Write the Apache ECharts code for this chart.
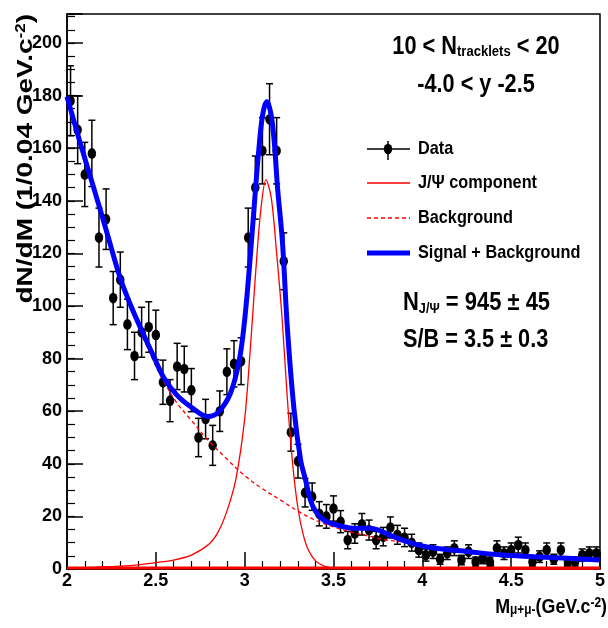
<!DOCTYPE html>
<html><head><meta charset="utf-8">
<script src="https://cdn.jsdelivr.net/npm/echarts@6/dist/echarts.min.js"></script>
<style>html,body{margin:0;padding:0;background:#fff}#c{width:608px;height:628px}</style>
</head><body><div id="c"></div>
<script>
// ---- data ----
const binCenters = [2.02,2.06,2.10,2.14,2.18,2.22,2.26,2.30,2.34,2.38,2.42,2.46,2.50,2.54,2.58,2.62,2.66,2.70,2.74,2.78,2.82,2.86,2.90,2.94,2.98,3.02,3.06,3.10,3.14,3.18,3.22,3.26,3.30,3.34,3.38,3.42,3.46,3.50,3.54,3.58,3.62,3.66,3.70,3.74,3.78,3.82,3.86,3.90,3.94,3.98,4.02,4.06,4.10,4.14,4.18,4.22,4.26,4.30,4.34,4.38,4.42,4.46,4.50,4.54,4.58,4.62,4.66,4.70,4.74,4.78,4.82,4.86,4.90,4.94,4.98];
const counts = [178,167,150,158,126,133,103,110,93,81,90,92,89,71,64,77,76,68,50,57,47,60,75,78,79,126,145,159,171,159,117,52,41,29,27.5,21,20,23,18,11,13.5,17,14.8,11,12.3,15.8,13,12,10,7.2,5.3,6.6,3.7,6,7.9,3.4,6.6,2.8,4,2.8,7.9,6,7.2,9.1,7.2,2.8,4.7,7.2,3.7,7.2,2.8,2.8,5.3,6,6];
const errors = [13.3,12.9,12.2,12.6,11.2,11.5,10.1,10.5,9.6,9.0,9.5,9.6,9.4,8.4,8.0,8.8,8.7,8.2,7.3,7.5,7.6,7.7,8.7,8.8,8.9,11.2,12.0,12.6,13.5,12.6,10.8,7.2,6.4,5.4,5.2,4.6,4.5,4.8,4.2,3.3,3.7,4.1,3.8,3.3,3.5,4.0,3.6,3.5,3.2,2.7,2.3,2.6,1.9,2.4,2.8,1.8,2.6,1.7,2.0,1.7,2.8,2.4,2.7,3.0,2.7,1.7,2.2,2.7,1.9,2.7,1.7,1.7,2.3,2.4,2.4];

const sbX = [2.00,2.07,2.15,2.22,2.30,2.36,2.425,2.49,2.547,2.62,2.70,2.79,2.85,2.92,2.97,3.00,3.03,3.056,3.083,3.102,3.124,3.148,3.167,3.185,3.213,3.24,3.278,3.315,3.343,3.37,3.40,3.445,3.52,3.61,3.705,3.76,3.816,3.89,3.98,4.075,4.26,4.447,4.63,4.82,5.00];
const sbY = [179.6,163,145,129,110.5,100,90,80.5,72.5,66,61.5,58,59.5,66.8,79.5,94.7,117.5,140,162,173,177.7,173,162,145,124,92,60.5,41.4,33.8,26.2,21.8,18.6,16.7,15.5,15.5,14.6,12.9,11,9.1,7.9,6.6,5.3,4.7,4.1,3.4];

const bkgX = [2.00,2.07,2.15,2.22,2.30,2.36,2.425,2.49,2.547,2.62,2.70,2.80,2.90,3.00,3.10,3.20,3.30,3.40,3.50,3.60,3.70,3.80,3.90,4.00,4.10,4.26,4.447,4.63,4.82,5.00];
const bkgY = [179.5,163,145,128.5,110,99,88.5,78.5,71,63,56.5,48.5,41.8,35.5,30.5,26.3,22,18.5,16,14,12.5,11,10.2,9,7.8,6.6,5.3,4.7,4.1,3.4];

const jpsiX = [2.00,2.10,2.20,2.30,2.40,2.50,2.60,2.70,2.80,2.85,2.90,2.95,3.00,3.03,3.06,3.09,3.12,3.15,3.18,3.21,3.24,3.27,3.30,3.33,3.36,3.40,3.45,3.50,3.60,5.00];
const jpsiY = [0.3,0.5,0.8,1.1,1.6,2.4,3.4,5.3,9.5,14,22,34,57,82,111,136,148,141,120,96,65,40,23,13,7,3,1,0.3,0,0];

const zeroX = [2.0, 5.0];
const zeroY = [0.4, 0.4];

const xMin = 2, xMax = 5, xStep = 0.5;
const yMin = 0, yMax = 211, yStep = 20, yMinorStep = 5;

// ---- chart ----
const FR = "'Liberation Sans',Arial,sans-serif";
const zip = (a, b) => a.map((v, i) => [v, b[i]]);
const dataPts = binCenters.map((x, i) => [x, counts[i], errors[i]]);

function renderItem(params, api) {
  const x = api.value(0), y = api.value(1), e = api.value(2);
  const c = api.coord([x, y]);
  const t = api.coord([x, y + e]);
  const b = api.coord([x, Math.max(y - e, 0)]);
  const cw = 3.5;
  const st = { stroke: '#000', lineWidth: 1.5 };
  return { type: 'group', children: [
    { type: 'line', shape: { x1: c[0], y1: t[1], x2: c[0], y2: b[1] }, style: st },
    { type: 'line', shape: { x1: c[0] - cw, y1: t[1], x2: c[0] + cw, y2: t[1] }, style: st },
    { type: 'line', shape: { x1: c[0] - cw, y1: b[1], x2: c[0] + cw, y2: b[1] }, style: st },
    { type: 'circle', x: c[0], y: c[1], scaleX: 0.8, shape: { cx: 0, cy: 0, r: 5.3 }, style: { fill: '#000' } }
  ]};
}

function txt(text, x, y, size, sx, align, rich) {
  const style = { text: text, fontSize: size, fontWeight: 'bold', fontFamily: FR, fill: '#000',
    align: align, verticalAlign: 'middle', textAlign: align, textVerticalAlign: 'middle' };
  if (rich) style.rich = rich;
  return { type: 'text', x: x, y: y, scaleX: sx, style: style };
}
const tok = (size, va) => ({ fontSize: size, fontWeight: 'bold', fontFamily: FR, fill: '#000', verticalAlign: va });

const chart = echarts.init(document.getElementById('c'), null, { renderer: 'canvas' });
chart.setOption({
  animation: false,
  backgroundColor: '#fff',
  grid: { left: 67, right: 2, top: 14, bottom: 59, show: true, borderColor: '#000', borderWidth: 1.5, backgroundColor: 'transparent' },
  xAxis: [{
    type: 'value', min: xMin, max: xMax, interval: xStep,
    axisLine: { onZero: false, lineStyle: { color: '#000', width: 1.5 } },
    axisTick: { inside: true, length: 17, lineStyle: { color: '#000', width: 1.5 } },
    minorTick: { show: true, splitNumber: 5, length: 8, lineStyle: { color: '#000', width: 1.2 } },
    axisLabel: { color: '#000', fontSize: 18, fontWeight: 'bold', fontFamily: FR, margin: 3 },
    splitLine: { show: false }, minorSplitLine: { show: false }
  }],
  yAxis: [{
    type: 'value', min: yMin, max: yMax, interval: yStep,
    axisLine: { show: true, lineStyle: { color: '#000', width: 1.5 } },
    axisTick: { inside: true, length: 16, lineStyle: { color: '#000', width: 1.5 } },
    axisLabel: { color: '#000', fontSize: 18, fontWeight: 'bold', fontFamily: FR, margin: 5,
      formatter: v => (v % 20 === 0 ? String(v) : '') },
    splitLine: { show: false }
  }, {
    type: 'value', min: yMin, max: yMax, interval: yMinorStep, position: 'left', offset: 0,
    axisLine: { show: false },
    axisTick: { inside: true, length: 8, lineStyle: { color: '#000', width: 1.2 } },
    axisLabel: { show: false }, splitLine: { show: false }
  }],
  series: [
    { type: 'custom', name: 'Data', renderItem: renderItem, data: dataPts, z: 2, encode: { x: 0, y: 1 } },
    { type: 'line', name: 'zero', data: zip(zeroX, zeroY), showSymbol: false, lineStyle: { color: '#ff0000', width: 3 }, z: 3 },
    { type: 'line', name: 'Background', data: zip(bkgX, bkgY), smooth: 0.35, showSymbol: false, lineStyle: { color: '#ff0000', width: 1.3, type: [4, 3] }, z: 3 },
    { type: 'line', name: 'J/Ψ component', data: zip(jpsiX, jpsiY), smooth: 0.3, showSymbol: false, lineStyle: { color: '#ff0000', width: 1.3 }, z: 3 },
    { type: 'line', name: 'Signal + Background', data: zip(sbX, sbY), smooth: 0.35, showSymbol: false, lineStyle: { color: '#0000ff', width: 5 }, z: 4 }
  ],
  graphic: [
    { type: 'text', x: 26, y: 14, rotation: Math.PI / 2, scaleY: 0.82,
      style: { text: '{a|dN/dM (1/0.04 GeV.c}{s|-2}{a|)}',
        rich: { a: tok(28, 'middle'), s: tok(17, 'top') },
        align: 'right', verticalAlign: 'middle', textAlign: 'right', textVerticalAlign: 'middle' } },
    txt('{a|M}{s|μ+μ-}{a|(GeV.c}{p|-2}{a|)}', 607, 607, 21, 0.85, 'right',
        { a: tok(21, 'middle'), s: tok(14, 'bottom'), p: tok(14, 'top') }),
    txt('{a|10 < N}{s|tracklets}{a| < 20}', 476, 47, 25, 0.87, 'center',
        { a: tok(25, 'middle'), s: tok(15, 'bottom') }),
    txt('-4.0 < y -2.5', 476, 85, 25, 0.867, 'center'),
    // legend
    { type: 'line', shape: { x1: 367, y1: 149, x2: 410, y2: 149 }, style: { stroke: '#000', lineWidth: 1.5 } },
    { type: 'line', shape: { x1: 388, y1: 141, x2: 388, y2: 160 }, style: { stroke: '#000', lineWidth: 1.5 } },
    { type: 'circle', x: 388, y: 149, scaleX: 0.8, shape: { cx: 0, cy: 0, r: 5.3 }, style: { fill: '#000' } },
    txt('Data', 418, 149, 18.5, 0.88, 'left'),
    { type: 'line', shape: { x1: 367, y1: 183, x2: 410, y2: 183 }, style: { stroke: '#ff0000', lineWidth: 1.5 } },
    txt('J/Ψ component', 418, 183, 18.5, 0.88, 'left'),
    { type: 'line', shape: { x1: 367, y1: 218, x2: 410, y2: 218 }, style: { stroke: '#ff0000', lineWidth: 1.5, lineDash: [4, 3] } },
    txt('Background', 418, 218, 18.5, 0.88, 'left'),
    { type: 'line', shape: { x1: 367, y1: 253, x2: 410, y2: 253 }, style: { stroke: '#0000ff', lineWidth: 5 } },
    txt('Signal + Background', 418, 253, 18.5, 0.88, 'left'),
    txt('{a|N}{s|J/Ψ}{a| = 945 ± 45}', 403, 303, 26, 0.845, 'left',
        { a: tok(26, 'middle'), s: tok(15, 'bottom') }),
    txt('S/B = 3.5 ± 0.3', 403, 340, 26, 0.835, 'left')
  ]
});
</script>
</body></html>
